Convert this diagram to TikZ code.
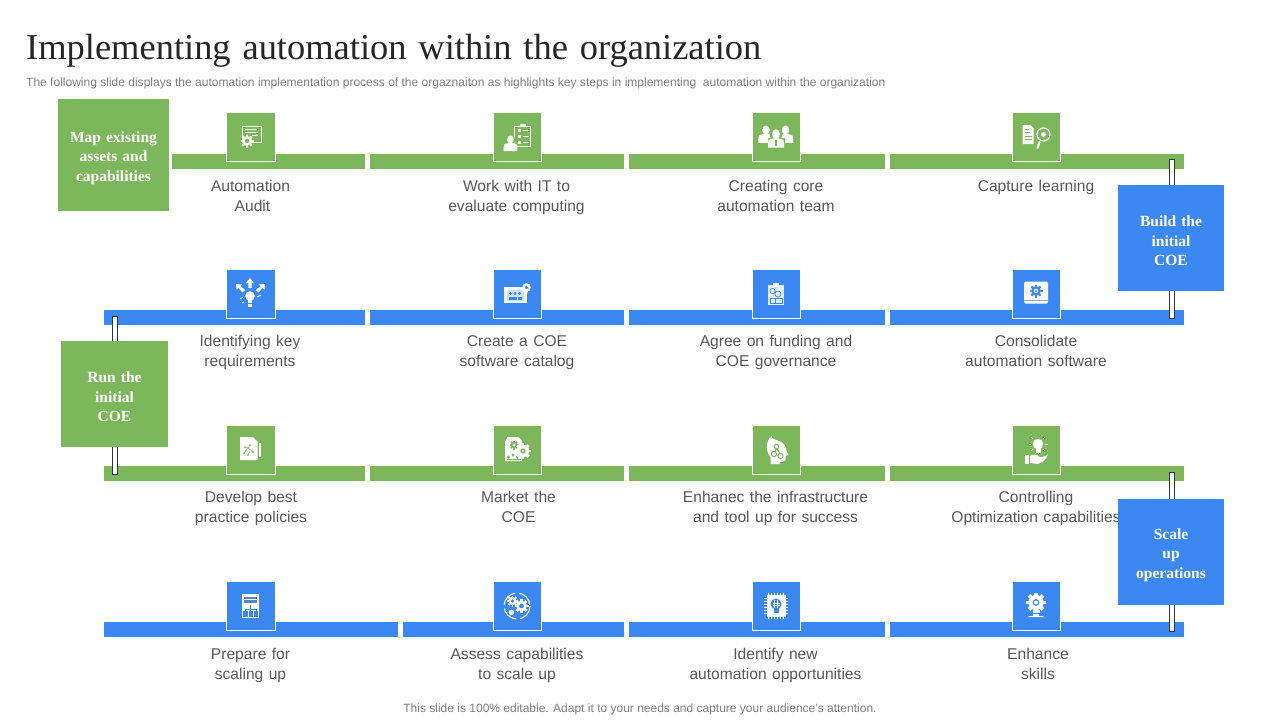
\documentclass[tikz,border=0pt]{standalone}
\usepackage{fontspec}
\setmainfont{Liberation Sans}
\newfontfamily\headserif[WordSpace=1.55]{Liberation Serif}
\newfontfamily\labelsans[WordSpace=1.25]{Liberation Sans}
\newfontfamily\boxserif[WordSpace=1.3]{Liberation Serif}
\definecolor{slgreen}{HTML}{7DB75B}
\definecolor{slblue}{HTML}{3C88F2}
\definecolor{sltext}{HTML}{595959}
\definecolor{slsub}{HTML}{7F7F7F}
\definecolor{sldark}{HTML}{2A3642}
\usetikzlibrary{calc}
\tikzset{
  seg/.style={anchor=north west,minimum height=15pt,inner sep=0pt,outer sep=0pt,draw=none},
  iconbox/.style={minimum width=48.5pt,minimum height=48.5pt,inner sep=0pt,outer sep=0pt,draw=white,line width=1pt},
  bigbox/.style={inner sep=0pt,outer sep=0pt,draw=none,text=white,align=center,
     font=\boxserif\bfseries\fontsize{15.5}{19.5}\selectfont},
  steplabel/.style={align=center,text=sltext,inner sep=0pt,font=\labelsans\fontsize{15.6}{19.5}\selectfont},
  linkbar/.style={fill=white,draw=sldark,line width=.8pt},
  thinw/.style={draw=white,line width=.8pt},
}
% two-line label with fixed height, so that all labels sit alike
\newcommand{\twolines}[2]{\rule{0pt}{14pt}#1\\#2\rule[-5pt]{0pt}{5pt}}
% three-line box text, set a little lower than the centre of its box
\newcommand{\threelines}[3]{\rule{0pt}{17pt}#1\\#2\\#3}
% gear: x,y,radius,fill,hole
\newcommand{\cogwheel}[5]{%
  \foreach \a in {0,45,...,315}{\draw[#4,line width=#3*0.36pt] ($(#1,#2)+(\a:#3*0.72)$)--($(#1,#2)+(\a:#3)$);}
  \fill[#4] (#1,#2) circle[radius=#3*0.76];
  \fill[#5] (#1,#2) circle[radius=#3*0.34];
}
\newcommand{\personshape}[4]{% x, head y, r, color
  \fill[#4] (#1,#2) ellipse[x radius=#3*1.0,y radius=#3*1.2];
  \fill[#4] ($(#1,#2)+(-#3*2,#3*3.4)$) -- ++(0,-#3*1.2) .. controls +(0,-#3*1) and +(-#3*0.6,0) .. ++(#3*1.3,-#3*1.1)
     -- ++(#3*1.4,0) .. controls +(#3*0.6,0) and +(0,-#3*1) .. ++(#3*1.3,#3*1.1) -- ++(0,#3*1.2) -- cycle;
}
\begin{document}
\begin{tikzpicture}[x=1pt,y=-1pt]
\useasboundingbox (0,0) rectangle (1280,720);
\fill[white] (0,0) rectangle (1280,720);
% title
\node[anchor=west,inner sep=0pt,text=black!85] (title) at (26,51) {\headserif\fontsize{36.45}{40}\selectfont Implementing automation within the organization};
\node[anchor=west,inner sep=0pt,text=slsub] (subtitle) at (26,83) {\fontsize{12.02}{14}\selectfont The following slide displays the automation implementation process of the orgaznaiton as highlights key steps in implementing\ \ automation within the organization};
\node[inner sep=0pt,text=slsub] (footer) at (640,709.5) {\fontsize{12}{14}\selectfont This slide is 100\% editable. Adapt it to your needs and capture your audience's attention.};
% bars row 1
\node[seg,fill=slgreen,minimum width=193pt] (r1a) at (172,154) {};
\node[seg,fill=slgreen,minimum width=254pt] (r1b) at (370,154) {};
\node[seg,fill=slgreen,minimum width=256pt] (r1c) at (629,154) {};
\node[seg,fill=slgreen,minimum width=294pt] (r1d) at (890,154) {};
% bars row 2
\node[seg,fill=slblue,minimum width=261pt] (r2a) at (104,310) {};
\node[seg,fill=slblue,minimum width=254pt] (r2b) at (370,310) {};
\node[seg,fill=slblue,minimum width=256pt] (r2c) at (629,310) {};
\node[seg,fill=slblue,minimum width=294pt] (r2d) at (890,310) {};
% bars row 3
\node[seg,fill=slgreen,minimum width=261pt] (r3a) at (104,466) {};
\node[seg,fill=slgreen,minimum width=254pt] (r3b) at (370,466) {};
\node[seg,fill=slgreen,minimum width=256pt] (r3c) at (629,466) {};
\node[seg,fill=slgreen,minimum width=294pt] (r3d) at (890,466) {};
% bars row 4
\node[seg,fill=slblue,minimum width=294pt] (r4a) at (104,622) {};
\node[seg,fill=slblue,minimum width=221pt] (r4b) at (403,622) {};
\node[seg,fill=slblue,minimum width=256pt] (r4c) at (629,622) {};
\node[seg,fill=slblue,minimum width=294pt] (r4d) at (890,622) {};
% link bars
\coordinate (l1t) at (1169.5,159.5); \coordinate (l1b) at (1174.5,318);
\coordinate (l2t) at (112.5,316);    \coordinate (l2b) at (117.5,474);
\coordinate (l3t) at (1169.5,472.5); \coordinate (l3b) at (1174.5,631);
\draw[linkbar] (l1t) rectangle (l1b);
\draw[linkbar] (l2t) rectangle (l2b);
\draw[linkbar] (l3t) rectangle (l3b);
% icon boxes
\foreach \n/\x/\y/\c in {b1/251/137/slgreen,b2/517.5/137/slgreen,b3/776.5/137/slgreen,b4/1036.5/137/slgreen,
  b5/251/294/slblue,b6/517.5/294/slblue,b7/776.5/294/slblue,b8/1036.5/294/slblue,
  b9/251/450/slgreen,b10/517.5/450/slgreen,b11/776.5/450/slgreen,b12/1036.5/450/slgreen,
  b13/251/606/slblue,b14/517.5/606/slblue,b15/776.5/606/slblue,b16/1036.5/606/slblue}{
  \node[iconbox,fill=\c] (\n) at (\x,\y) {};
}
% ---- icons ----
% 1 automation audit
\begin{scope}[shift={(b1.center)}]
  \draw[thinw] (-9,-11) rectangle (10,5);
  \draw[white,line width=.7pt] (-6,-8)--(6,-8) (-6,-5)--(7,-5) (1,-2)--(7,-2);
  \cogwheel{-4}{4}{6.5}{white}{slgreen}
\end{scope}
% 2 work with IT
\begin{scope}[shift={(b2.center)}]
  \draw[white,line width=1pt] (-3,-11) rectangle (13,9);
  \fill[white] (2,-13) rectangle (8,-10);
  \foreach \yy in {-7,-1,5}{\fill[white] (0,\yy-1.5) rectangle (3,\yy+1.5); \draw[white,line width=.6pt] (5,\yy)--(11,\yy);}
  \fill[slgreen] (-7,3) circle[radius=5];
  \personshape{-7}{2.5}{3.4}{white}
\end{scope}
% 3 team
\begin{scope}[shift={(b3.center)}]
  \personshape{-10.5}{-7}{3.8}{white}
  \personshape{9}{-7}{3.8}{white}
  \fill[slgreen] (-0.5,-3) circle[radius=6.5];
  \fill[slgreen] (-9,1) rectangle (8,11);
  \personshape{-0.5}{-3}{4}{white}
  \fill[slgreen] (-1.2,3) rectangle (.2,9);
\end{scope}
% 4 capture learning
\begin{scope}[shift={(b4.center)}]
  \fill[white] (-14,-12) -- (-6,-12) -- (-3,-9) -- (-3,7) -- (-14,7) -- cycle;
  \draw[slgreen,line width=.7pt] (-12,-8)--(-8,-8) (-12,-5)--(-7,-5) (-12,-1)--(-5,-1) (-12,2)--(-5,2);
  \draw[white,line width=2pt,line cap=round] (3,5)--(1,11);
  \draw[white,line width=1.2pt] (7,-2.5) circle[radius=6.5];
  \fill[white] (7,-2.5) circle[radius=2.4];
\end{scope}
% 5 identifying requirements
\begin{scope}[shift={(b5.center)}]
  \fill[white] (-1,2) circle[radius=4.8];
  \fill[white] (-3,6) rectangle (1,13);
  \draw[slblue,line width=.5pt] (-3,9)--(1,9);
  \fill[white] (-1,-16) -- (3,-11) -- (.7,-11) -- (.7,-6) -- (-2.7,-6) -- (-2.7,-11) -- (-5,-11) -- cycle;
  \fill[white] (-15,-10) -- (-9,-9.5) -- (-10.5,-8) -- (-6,-4) -- (-8.5,-1.5) -- (-12.5,-6) -- (-14.5,-4.5) -- cycle;
  \fill[white] (14,-10) -- (8,-9.5) -- (9.5,-8) -- (5,-4) -- (7.5,-1.5) -- (11.5,-6) -- (13.5,-4.5) -- cycle;
  \draw[white,line width=.7pt] (-8,3)--(-11,5) (6,3)--(10,1) (-7,8)--(-9,9);
\end{scope}
% 6 catalog
\begin{scope}[shift={(b6.center)}]
  \fill[white] (-13.5,-7) rectangle (9,9);
  \fill[slblue!25] (-11,-4.5) rectangle (6.5,6.5);
  \foreach \xx in {-7,-2.5,2}{\fill[slblue] (\xx,-.5) circle[radius=1.6]; \fill[slblue] (\xx-2,3) rectangle (\xx+2,5.5);}
  \fill[white] (9,-6.5) circle[radius=4.3];
  \fill[white] (7,-4) -- (11,-4) -- (9,1) -- cycle;
  \fill[slblue] (9,-6.5) circle[radius=1.8];
\end{scope}
% 7 funding clipboard
\begin{scope}[shift={(b7.center)}]
  \fill[white!85!slblue] (-8.5,-9) rectangle (7.5,11);
  \fill[white] (-3.5,-11) rectangle (2.5,-7.5);
  \draw[slblue,line width=.7pt] (-4,-3) circle[radius=2.6] (1.5,0) circle[radius=3];
  \draw[slblue,line width=.6pt] (-6.5,4) rectangle (5.5,9) (-1,4)--(-1,9);
\end{scope}
% 8 consolidate
\begin{scope}[shift={(b8.center)}]
  \fill[white,rounded corners=1.5pt] (-12.5,-12.5) rectangle (11.5,9.5);
  \fill[slblue!40!gray!70] (-12.5,5.5) rectangle (11.5,7);
  \cogwheel{-.5}{-3}{6.5}{slblue}{white}
  \fill[slblue] (-.5,-3) circle[radius=1.2];
\end{scope}
% 9 develop policies
\begin{scope}[shift={(b9.center)}]
  \fill[white] (-11,-13) -- (2,-13) -- (6.5,-8.5) -- (6.5,10) -- (-11,10) -- cycle;
  \fill[white] (8,-7) rectangle (10,7);
  \draw[slgreen,line width=.6pt] (-7,3)--(-3,-2)--(-1,-5) (-3,-2)--(2,2) (-6,-3)--(-3,-2) (-3,5)--(-1,1);
  \foreach \p in {(-7,3),(-1,-5),(2,2),(-6,-3),(-3,5)}{\fill[slgreen] \p circle[radius=1];}
\end{scope}
% 10 market
\begin{scope}[shift={(b10.center)}]
  \fill[white] (-10,-13) -- (1,-13) -- (4.5,-9.5) -- (4.5,11) -- (-12.5,11) -- (-12.5,-8) -- cycle;
  \cogwheel{-3.5}{-5}{4.5}{slgreen}{white}
  \foreach \xx/\yy in {-9/7,-4.5/5,0/7}{\fill[slgreen] (\xx,\yy) circle[radius=1.6];}
  \draw[slgreen,line width=.7pt] (-11,9.5)--(3,9.5);
  \cogwheel{5.5}{1}{8}{white}{slgreen}
  \fill[white] (5.5,1) circle[radius=1.2];
\end{scope}
% 11 infrastructure head
\begin{scope}[shift={(b11.center)}]
  \fill[white] (-6,14) -- (-6,7) .. controls (-11,2) and (-11,-9) .. (-5,-14)
     .. controls (-5,-11) and (-2,-11) .. (2,-9) .. controls (8,-7) and (10,-3) .. (10,1)
     -- (12,5) -- (9,6) -- (9,10) .. controls (8,12) and (5,12) .. (3,12) -- (3,14) -- cycle;
  \draw[slgreen,line width=1pt] (-2.5,4) circle[radius=2.6] (4,6) circle[radius=2.6] (0,-3.5) circle[radius=2.3]
     (-1.5,1.5)--(-.5,-1) (.5,-1)--(3.5,3.5);
\end{scope}
% 12 controlling
\begin{scope}[shift={(b12.center)}]
  \fill[white] (1.5,-6) circle[radius=5.2];
  \fill[white] (-1,-2) rectangle (4,3);
  \foreach \a in {0,45,90,135,180,-45,225}{\draw[white,line width=.7pt] ($(1.5,-6)+(\a:7)$)--($(1.5,-6)+(\a:9.5)$);}
  \fill[white] (-11.5,5) rectangle (-7.5,14);
  \fill[white] (-6.5,6) .. controls (-3,4) and (0,4) .. (3,7) -- (6,7) -- (11.5,4.5) .. controls (10,9) and (6,13) .. (1,14) -- (-6.5,13) -- cycle;
\end{scope}
% 13 prepare
\begin{scope}[shift={(b13.center)}]
  \fill[white] (-9,-12) rectangle (8,12);
  \fill[slblue!65!gray] (-7,-9) rectangle (6,-7.5);
  \fill[slblue!65!gray] (-7,-6) rectangle (6,-3);
  \draw[slblue,line width=.8pt] (-.5,-1)--(-.5,3) (-6,5)--(-6,3)--(5,3)--(5,5) (-.5,3)--(-.5,5);
  \fill[slblue] (-8,5) rectangle (7,10.5);
  \draw[white,line width=.8pt] (-3,5)--(-3,10.5) (2,5)--(2,10.5);
\end{scope}
% 14 assess
\begin{scope}[shift={(b14.center)}]
  \draw[white,line width=1.1pt,dash pattern=on 17pt off 4pt] (-.5,0) circle[radius=13];
  \cogwheel{-5}{-5}{5.5}{white}{slblue}
  \cogwheel{4}{0}{7}{white}{slblue}
  \fill[white] (-6,6.5) circle[radius=2.8];
\end{scope}
% 15 chip
\begin{scope}[shift={(b15.center)}]
  \foreach \t in {-8,-5,-2,1,4,7}{\draw[white,line width=1pt] (\t,-13)--(\t,13) (-12.5,\t+.5)--(11.5,\t+.5);}
  \fill[white] (-10,-11) rectangle (9,11);
  \fill[slblue] (-.5,-2) circle[radius=5.5];
  \fill[slblue] (-3,2) rectangle (2,7);
  \draw[white,line width=.5pt] (-4,-3)--(3,-3) (-4,-1)--(3,-1) (-2,-6)--(-2,2) (1,-6)--(1,2);
\end{scope}
% 16 enhance
\begin{scope}[shift={(b16.center)}]
  \cogwheel{-.5}{-3.5}{10}{white}{slblue}
  \fill[white] (-.5,-3.5) circle[radius=2];
  \fill[white] (-4,4) rectangle (3,7);
  \fill[white] (-3.5,8) rectangle (2.5,9.5);
  \fill[white] (-7,10) -- (6,10) -- (8,11) -- (-9,11) -- cycle;
\end{scope}
% labels
\node[steplabel] (t1) at (250.5,196.75) {\twolines{Automation}{\hspace*{4pt}Audit}};
\node[steplabel] (t2) at (516.5,196.75) {\twolines{Work with IT to}{evaluate computing}};
\node[steplabel] (t3) at (776,196.75) {\twolines{Creating core}{automation team}};
\node[steplabel] (t4) at (1036,187) {\rule{0pt}{14pt}Capture learning\rule[-5pt]{0pt}{5pt}};
\node[steplabel] (t5) at (250,351.75) {\twolines{Identifying key}{requirements}};
\node[steplabel] (t6) at (517,351.75) {\twolines{Create a COE}{software catalog}};
\node[steplabel] (t7) at (776,351.75) {\twolines{Agree on funding and}{COE governance}};
\node[steplabel] (t8) at (1036,351.75) {\twolines{Consolidate}{automation software}};
\node[steplabel] (t9) at (251,507.75) {\twolines{Develop best}{practice policies}};
\node[steplabel] (t10) at (518.5,507.75) {\twolines{Market the}{COE}};
\node[steplabel] (t11) at (775.5,507.75) {\twolines{Enhanec the infrastructure}{and tool up for success}};
\node[steplabel] (t12) at (1036,507.75) {\twolines{Controlling}{Optimization capabilities}};
\node[steplabel] (t13) at (250.5,664.75) {\twolines{Prepare for}{scaling up}};
\node[steplabel] (t14) at (517,664.75) {\twolines{Assess capabilities}{to scale up}};
\node[steplabel] (t15) at (775.5,664.75) {\twolines{Identify new}{automation opportunities}};
\node[steplabel] (t16) at (1038,664.75) {\twolines{Enhance}{skills}};
% big boxes
\node[bigbox,fill=slgreen,minimum width=111pt,minimum height=112pt] (m1) at (113.5,155) {\threelines{Map existing}{assets and}{capabilities}};
\node[bigbox,fill=slblue,minimum width=106pt,minimum height=106pt] (m2) at (1171,238) {\threelines{Build the}{initial}{COE}};
\node[bigbox,fill=slgreen,minimum width=107pt,minimum height=106pt] (m3) at (114.5,394) {\threelines{Run the}{initial}{COE}};
\node[bigbox,fill=slblue,minimum width=106pt,minimum height=106pt] (m4) at (1171,552) {\threelines{Scale}{up}{operations}};
\end{tikzpicture}
\end{document}
